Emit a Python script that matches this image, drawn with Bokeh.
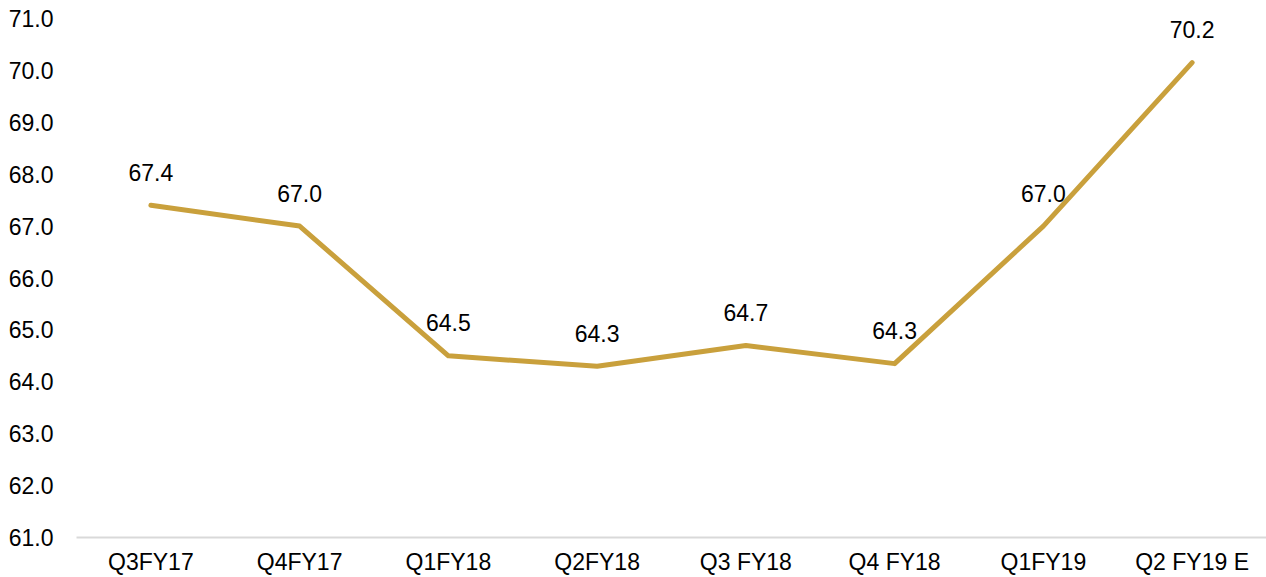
from bokeh.plotting import figure
from bokeh.models import ColumnDataSource, Range1d, FixedTicker, CustomJSTickFormatter
from bokeh.core.properties import value
from bokeh.embed import file_html
from bokeh.resources import INLINE

categories = ["Q3FY17", "Q4FY17", "Q1FY18", "Q2FY18", "Q3 FY18", "Q4 FY18", "Q1FY19", "Q2 FY19 E"]
values = [67.4, 67.0, 64.5, 64.3, 64.7, 64.35, 67.0, 70.15]
labels = ["67.4", "67.0", "64.5", "64.3", "64.7", "64.3", "67.0", "70.2"]
y_ticks = [61, 62, 63, 64, 65, 66, 67, 68, 69, 70, 71]

FONT = "Liberation Sans"
src = ColumnDataSource(dict(x=categories, y=values, lab=labels))

p = figure(x_range=categories, y_range=Range1d(61, 71), width=1266, height=577,
           output_backend="svg", toolbar_location=None,
           min_border_left=76, min_border_right=0, min_border_top=18, min_border_bottom=0)
p.outline_line_color = None
p.xgrid.grid_line_color = None
p.ygrid.grid_line_color = None
p.background_fill_color = "white"
p.border_fill_color = "white"

p.line("x", "y", source=src, line_color="#C9A03C", line_width=5, line_join="round", line_cap="round")
p.text("x", "y", text="lab", source=src, text_align="center", text_baseline="alphabetic",
       y_offset=-33, text_font=value(FONT), text_font_size="23px", text_color="#000000")

p.yaxis.ticker = FixedTicker(ticks=y_ticks)
p.yaxis.formatter = CustomJSTickFormatter(code="return tick.toFixed(1);")
p.yaxis.axis_line_color = None
p.yaxis.major_tick_line_color = None
p.yaxis.minor_tick_line_color = None
p.yaxis.major_label_text_font = FONT
p.yaxis.major_label_text_font_size = "23px"
p.yaxis.major_label_text_color = "#000000"
p.yaxis.major_label_standoff = 17

p.xaxis.axis_line_color = "#D9D9D9"
p.xaxis.axis_line_width = 2
p.xaxis.major_tick_line_color = None
p.xaxis.minor_tick_line_color = None
p.xaxis.major_label_text_font = FONT
p.xaxis.major_label_text_font_size = "23px"
p.xaxis.major_label_text_color = "#000000"
p.xaxis.major_label_standoff = 5

open("out.html", "w").write(file_html(p, INLINE))
